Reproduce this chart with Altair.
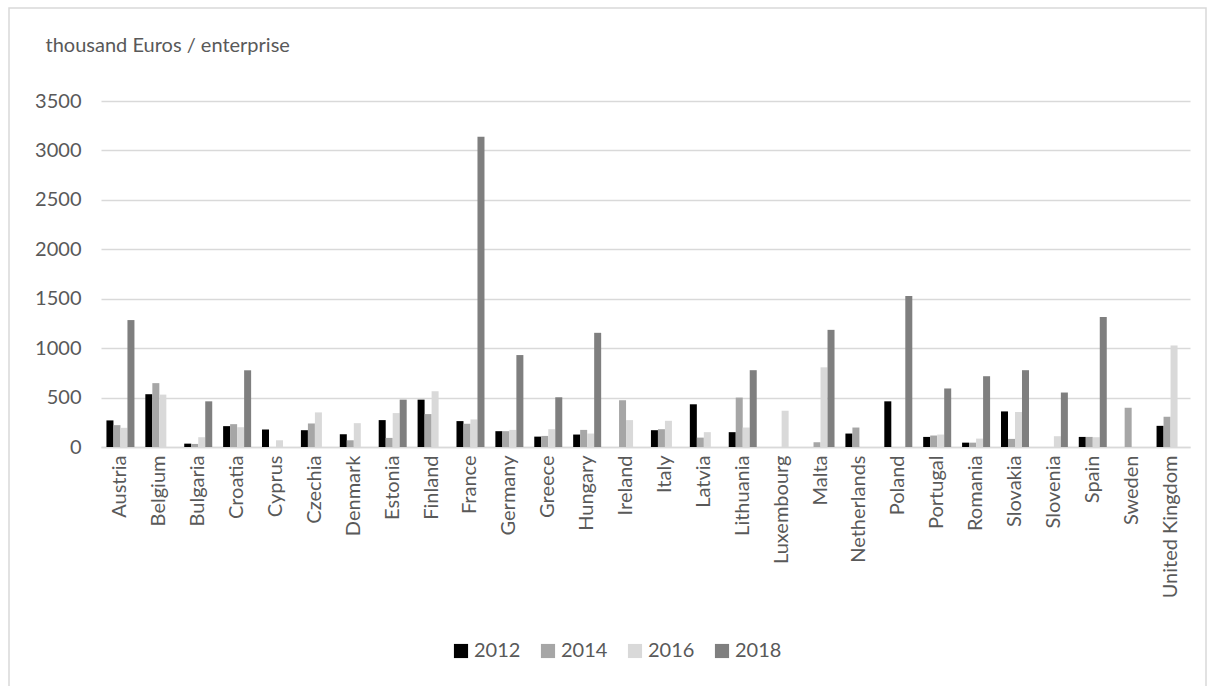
import altair as alt
import pandas as pd

countries = ["Austria", "Belgium", "Bulgaria", "Croatia", "Cyprus", "Czechia", "Denmark",
             "Estonia", "Finland", "France", "Germany", "Greece", "Hungary", "Ireland",
             "Italy", "Latvia", "Lithuania", "Luxembourg", "Malta", "Netherlands", "Poland",
             "Portugal", "Romania", "Slovakia", "Slovenia", "Spain", "Sweden", "United Kingdom"]
years = ["2012", "2014", "2016", "2018"]
v2012 = [269, 534, 34, 211, 177, 170, 129, 272, 479, 262, 160, 105, 126, None,
         170, 432, 150, None, None, 136, 462, 102, 44, 360, None, 102, None, 214]
v2014 = [221, 646, 31, 231, None, 238, 68, 92, 333, 235, 160, 112, 173, 473,
         180, 95, 500, None, 48, 197, None, 116, 44, 82, None, 102, 398, 306]
v2016 = [194, 530, 99, 200, 68, 350, 241, 343, 564, 279, 173, 180, 136, 272,
         265, 150, 197, 367, 806, None, None, 126, 85, 354, 109, 99, None, 1027]
v2018 = [1284, None, 462, 776, None, None, None, 479, None, 3139, 930, 503, 1155, None,
         None, None, 777, None, 1185, None, 1527, 592, 716, 777, 551, 1314, None, None]
colors = ["#000000", "#a6a6a6", "#d9d9d9", "#7f7f7f"]

rows = []
for yr, vals in zip(years, [v2012, v2014, v2016, v2018]):
    for c, v in zip(countries, vals):
        if v is not None:
            rows.append({"country": c, "year": yr, "value": v})
df = pd.DataFrame(rows)

FONT = "Lato"
TXT = "#595959"

bars = alt.Chart(df).mark_bar().encode(
    x=alt.X("country:N", sort=countries,
            scale=alt.Scale(paddingInner=0.28, paddingOuter=0.14),
            axis=alt.Axis(title=None, labelAngle=270, labelFontSize=20, labelFont=FONT,
                          labelColor=TXT, domainColor="#d9d9d9", domainWidth=1.5,
                          ticks=False, labelPadding=8, grid=False)),
    xOffset=alt.XOffset("year:N", scale=alt.Scale(domain=years)),
    y=alt.Y("value:Q", scale=alt.Scale(domain=[0, 3500], nice=False),
            axis=alt.Axis(values=list(range(0, 3501, 500)), format="d",
                          title="thousand Euros / enterprise",
                          titleAngle=0, titleAlign="left", titleBaseline="middle",
                          titleX=-56, titleY=-56, titleFont=FONT, titleFontSize=20,
                          titleFontWeight="normal", titleColor=TXT,
                          labelFont=FONT, labelFontSize=20, labelColor=TXT, labelPadding=20,
                          domain=False, ticks=False, gridColor="#d9d9d9", gridWidth=1.5)),
    color=alt.Color("year:N", scale=alt.Scale(domain=years, range=colors),
                    legend=alt.Legend(title=None, orient="none", direction="horizontal",
                                      legendX=350, legendY=540, symbolType="square",
                                      symbolSize=200, symbolStrokeWidth=0, labelFont=FONT,
                                      labelFontSize=20, labelColor=TXT, columnPadding=17,
                                      labelOffset=3)),
)

border = alt.Chart(alt.Data(values=[{}])).mark_rect(
    fill=None, stroke="#d9d9d9", strokeWidth=1.5
).encode(x=alt.value(-92), x2=alt.value(1105), y=alt.value(-93), y2=alt.value(620))

chart = alt.layer(border, bars).properties(
    width=1089, height=346,
    padding={"left": 101, "top": 101, "right": 25, "bottom": 239},
    autosize=alt.AutoSizeParams(type="none"),
).configure_view(stroke=None)

chart.save("out.html", embed_options={"renderer": "svg", "actions": False})
